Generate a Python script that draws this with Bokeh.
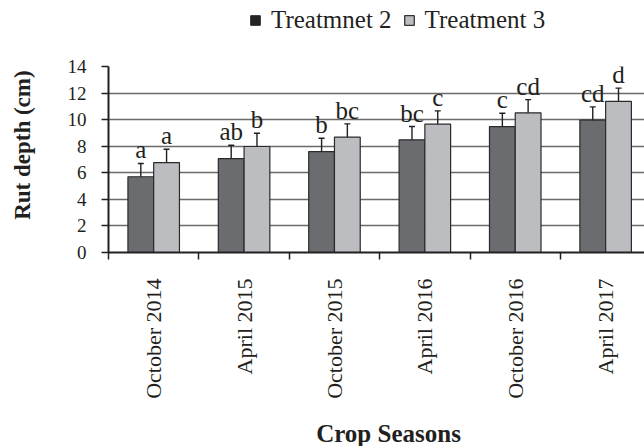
import math
import numpy as np
from bokeh.plotting import figure
from bokeh.layouts import column
from bokeh.models import (FixedTicker, Whisker, ColumnDataSource, Legend, LegendItem, TeeHead)
from bokeh.core.properties import value
from bokeh.embed import file_html
from bokeh.resources import INLINE

# ---------------- data ----------------
seasons = ["October 2014", "April 2015", "October 2015", "April 2016", "October 2016", "April 2017"]
series_names = ["Treatmnet 2", "Treatment 3"]
t2_values = [5.7, 7.07, 7.6, 8.48, 9.48, 9.96]
t3_values = [6.77, 7.98, 8.68, 9.66, 10.51, 11.37]
t2_errors = [1.0, 1.0, 1.0, 1.0, 1.0, 1.0]
t3_errors = [1.0, 1.0, 1.0, 1.0, 1.0, 1.0]
t2_letters = ["a", "ab", "b", "bc", "c", "cd"]
t3_letters = ["a", "b", "bc", "c", "cd", "d"]
y_ticks = [0, 2, 4, 6, 8, 10, 12, 14]
y_title = "Rut depth (cm)"
x_title = "Crop Seasons"

# ---------------- style ----------------
REG = "Liberation Serif"
BOLD_FONT = "Liberation Serif"
INK = "#231f20"
C2 = "#6b6c70"
C3 = "#bcbdc1"
bar_w = 0.285
LEG_H = 40
BOT_H = 34
FRAME_W = 536

centers = np.arange(len(seasons)) + 0.5
x2 = centers - bar_w / 2
x3 = centers + bar_w / 2

# ---------------- legend strip ----------------
lf = figure(width=644, height=LEG_H, x_range=(0, 1), y_range=(0, 1),
            x_axis_type=None, y_axis_type=None, output_backend="svg",
            toolbar_location=None, title=None, min_border=0)
lf.outline_line_color = None
lf.grid.visible = False
# off-range swatch renderers (only their legend glyphs are seen)
r_l2 = lf.vbar(x=[-5], top=[-5], bottom=[-6], width=0.1, fill_color="#262324", line_color="#262324")
r_l3 = lf.vbar(x=[-5], top=[-5], bottom=[-6], width=0.1, fill_color=C3, line_color="#333333", line_width=1.3)
legend = Legend(items=[LegendItem(label=series_names[0], renderers=[r_l2]),
                       LegendItem(label=series_names[1], renderers=[r_l3])],
                orientation="horizontal", location=(141, 6), padding=0, margin=0,
                glyph_width=12, glyph_height=12, label_standoff=10, spacing=11,
                label_text_font=REG, label_text_font_size="25px", label_text_color=INK,
                label_height=24, background_fill_alpha=0, border_line_alpha=0)
lf.add_layout(legend, "center")

# ---------------- main chart ----------------
MAIN_H = 446 - LEG_H - BOT_H
p = figure(width=644, height=MAIN_H, x_range=(0, 5.93), y_range=(0, 14),
           output_backend="svg", toolbar_location=None, title=None,
           min_border_left=108, min_border_right=0, min_border_top=66 - LEG_H,
           min_border_bottom=MAIN_H - (252 - LEG_H))
p.outline_line_color = None
p.background_fill_color = "white"

s2 = ColumnDataSource(dict(x=x2, top=t2_values, up=np.array(t2_values) + np.array(t2_errors),
                           lo=np.array(t2_values) - np.array(t2_errors), lab=t2_letters))
s3 = ColumnDataSource(dict(x=x3, top=t3_values, up=np.array(t3_values) + np.array(t3_errors),
                           lo=np.array(t3_values) - np.array(t3_errors), lab=t3_letters))

p.vbar(x="x", top="top", bottom=0, width=bar_w, source=s2, fill_color=C2,
       line_color="#2a2a2a", line_width=1.2)
p.vbar(x="x", top="top", bottom=0, width=bar_w, source=s3, fill_color=C3,
       line_color="#2a2a2a", line_width=1.2)

for src in (s2, s3):
    w = Whisker(source=src, base="x", upper="up", lower="lo", line_color=INK, line_width=1.4,
                upper_head=TeeHead(size=6, line_color=INK, line_width=1.4),
                lower_head=TeeHead(size=6, line_color=INK, line_width=1.4))
    p.add_layout(w)
    p.text(x="x", y="up", text="lab", source=src, text_align="center",
           text_baseline="bottom", y_offset=0, text_font=value(REG),
           text_font_size="25px", text_color=INK)

# axes
xa = p.xaxis[0]
xa.ticker = FixedTicker(ticks=list(centers), minor_ticks=list(range(len(seasons) + 1)))
xa.major_label_overrides = {float(c): s for c, s in zip(centers, seasons)}
xa.major_tick_in = 0
xa.major_tick_out = 0
xa.minor_tick_in = 0
xa.minor_tick_out = 7
xa.minor_tick_line_color = INK
xa.minor_tick_line_width = 1.5
xa.major_label_orientation = math.pi / 2
xa.major_label_standoff = 19
xa.major_label_text_font = REG
xa.major_label_text_font_size = "22px"
xa.major_label_text_color = INK
xa.axis_line_color = INK
xa.axis_line_width = 2

ya = p.yaxis[0]
ya.ticker = FixedTicker(ticks=y_ticks, minor_ticks=[])
ya.major_tick_in = 0
ya.major_tick_out = 7
ya.major_tick_line_color = INK
ya.major_tick_line_width = 1.5
ya.major_label_standoff = 15
ya.major_label_text_font = REG
ya.major_label_text_font_size = "19px"
ya.major_label_text_color = INK
ya.axis_line_color = INK
ya.axis_line_width = 2
# leading no-break spaces lift the centred title a little, as in the original
ya.axis_label = "\u00a0" * 5 + y_title
ya.axis_label_standoff = 30
ya.axis_label_text_font = BOLD_FONT
ya.axis_label_text_font_style = "bold"
ya.axis_label_text_font_size = "23px"
ya.axis_label_text_color = INK

p.xgrid.visible = False
p.ygrid.ticker = FixedTicker(ticks=y_ticks[1:-1], minor_ticks=[])
p.ygrid.grid_line_color = "#6a6a6a"
p.ygrid.grid_line_width = 1.4

# ---------------- x title strip ----------------
bf = figure(width=644, height=BOT_H, x_range=(0, FRAME_W), y_range=(0, BOT_H),
            x_axis_type=None, y_axis_type=None, output_backend="svg",
            toolbar_location=None, title=None, min_border=0)
bf.outline_line_color = None
bf.grid.visible = False
bf.text(x=[280], y=[0], text=[x_title], text_align="center", text_baseline="bottom",
        text_font=value(BOLD_FONT), text_font_style="bold", text_font_size="25px",
        text_color=INK)

page = column(lf, p, bf, spacing=0)
open("out.html", "w").write(file_html(page, INLINE))
